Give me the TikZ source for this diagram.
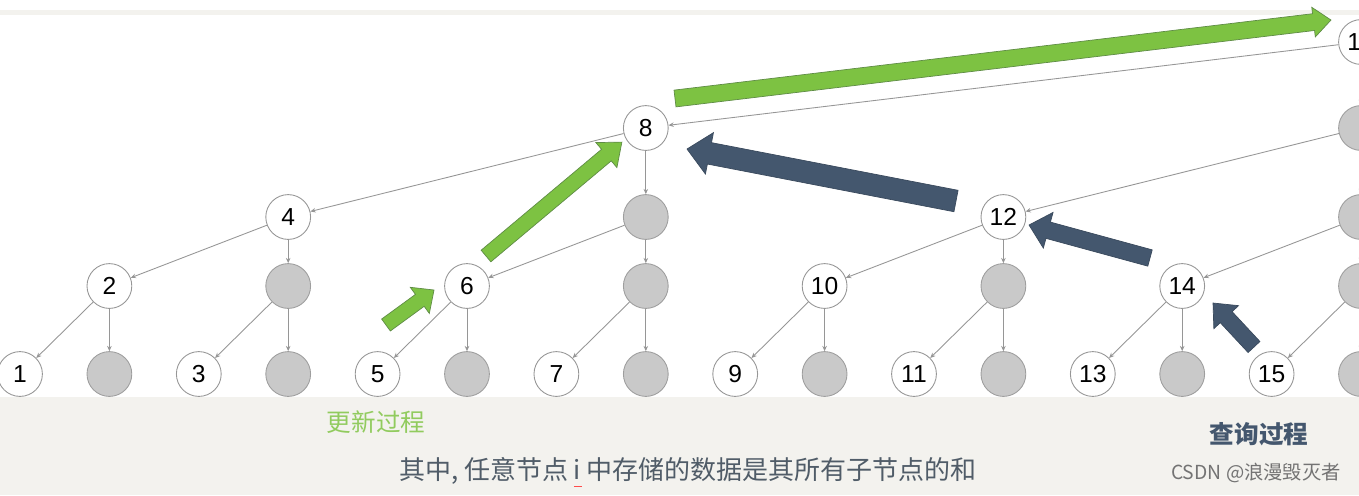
\documentclass[tikz,border=0pt]{standalone}
\usepackage{fontspec}
\setmainfont{Liberation Sans}
\newfontfamily\cjk{Noto Sans CJK SC}
\usetikzlibrary{arrows.meta,calc}
\definecolor{upgreen}{RGB}{125,194,66}
\definecolor{upline}{RGB}{95,140,70}
\definecolor{qblue}{RGB}{68,87,110}
\definecolor{band}{RGB}{243,242,238}
\definecolor{edgec}{RGB}{150,150,150}
\definecolor{txtc}{RGB}{80,92,104}
% block arrow: style, from, to, shaft half width, head half width, head length
\newcommand\blockarrow[6]{%
  \path[#1] let \p1=#2, \p2=#3, \n1={atan2(\y2-\y1,\x2-\x1)}, \n2={veclen(\x2-\x1,\y2-\y1)} in
    [shift={(\p1)},rotate=\n1] (0pt,-#4) -- (\n2-#6,-#4) -- (\n2-#6,-#5) -- (\n2,0pt)
    -- (\n2-#6,#5) -- (\n2-#6,#4) -- (0pt,#4) -- cycle;}
\begin{document}
\begin{tikzpicture}[x=0.02cm,y=-0.02cm,
  tnode/.style={circle,draw=edgec,line width=0.5pt,fill=white,minimum size=25.5pt,inner sep=0pt,font=\fontsize{14}{14}\selectfont},
  gnode/.style={tnode,fill=black!21,draw=black!38},
  link/.style={draw=edgec,line width=0.5pt,-{Stealth[length=3pt,width=2.6pt]}},
  upd/.style={fill=upgreen,draw=upline,line width=0.4pt},
  qry/.style={fill=qblue,draw=qblue!85!black,line width=0.4pt}]
  \useasboundingbox (0,0) rectangle (1359,495);
  \fill[band] (0,10) rectangle (1359,15);
  \fill[band] (0,397) rectangle (1359,495);
  % tree: column k holds levels 0..t
  \foreach \k/\t in {1/0,2/1,3/0,4/2,5/0,6/1,7/0,8/3,9/0,10/1,11/0,12/2,13/0,14/1,15/0,16/4} {
    \foreach \l in {0,...,\t} {
      \pgfmathsetmacro\yy{{374,286,217,128,42}[\l]}
      \ifnum\l=\t \node[tnode] (n\k-\l) at ({20+(\k-1)*89.4},\yy) {\k};
      \else \node[gnode] (n\k-\l) at ({20+(\k-1)*89.4},\yy) {};\fi
    }
  }
  \foreach \k/\t in {2/1,4/2,6/1,8/3,10/1,12/2,14/1,16/4} {
    \foreach \l in {1,...,\t} {
      \pgfmathtruncatemacro\lv{\l-1}
      \pgfmathtruncatemacro\cl{\k-2^(\l-1)}
      \draw[link] (n\k-\l) -- (n\k-\lv);
      \draw[link] (n\k-\l) -- (n\cl-\lv);
    }
  }
  % update and query arrows
  \blockarrow{upd}{(386,325)}{(434,290)}{4.2pt}{9.2pt}{10pt}
  \blockarrow{upd}{(486,256)}{(622,142)}{4.3pt}{9.3pt}{11.5pt}
  \blockarrow{upd}{(675,98.5)}{(1331,20)}{4.8pt}{8.5pt}{10pt}
  \blockarrow{qry}{(956,201)}{(687,149)}{6.2pt}{12pt}{13pt}
  \blockarrow{qry}{(1150,258)}{(1029,225)}{4.8pt}{10.5pt}{11.3pt}
  \blockarrow{qry}{(1254,347)}{(1213,303)}{4.6pt}{9.6pt}{11pt}
  \node[font=\cjk\fontsize{14}{14}\selectfont,text=upgreen!85!white] (updtxt) at (376,422) {更新过程};
  \node[font=\cjk\bfseries\fontsize{14}{14}\selectfont,text=qblue] (qrytxt) at (1259,434) {查询过程};
  \node[font=\cjk\fontsize{14.8}{15}\selectfont,text=txtc] (note) at (688,472) {其中, 任意节点 \rlap{\color{red!70}\rule[-4pt]{0.3em}{0.6pt}}i 中存储的数据是其所有子节点的和};
  \node[font=\cjk\fontsize{11}{11}\selectfont,text=black!55] (mark) at (1256,473) {CSDN @浪漫毁灭者};
\end{tikzpicture}
\end{document}
